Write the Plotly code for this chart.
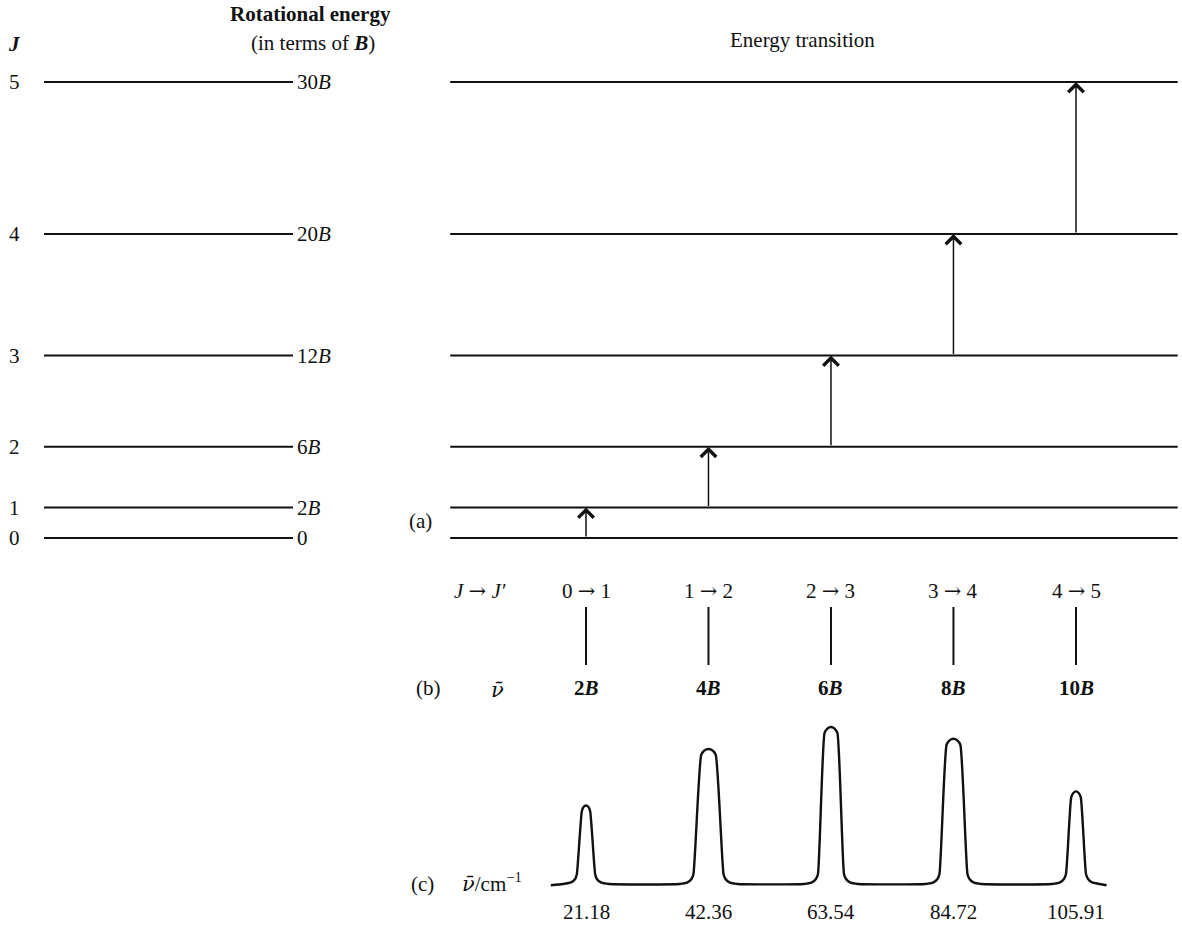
import plotly.graph_objects as go

# ---------------- data ----------------
J_LEVELS = [0, 1, 2, 3, 4, 5]
ENERGY_B = [0, 2, 6, 12, 20, 30]
ENERGY_LABELS = ["0", "2<i>B</i>", "6<i>B</i>", "12<i>B</i>", "20<i>B</i>", "30<i>B</i>"]

TRANSITIONS = [(0, 1), (1, 2), (2, 3), (3, 4), (4, 5)]
WAVENUMBERS = [21.18, 42.36, 63.54, 84.72, 105.91]
WAVENUMBER_LABELS = ["21.18", "42.36", "63.54", "84.72", "105.91"]
STICK_LABELS = ["2<i>B</i>", "4<i>B</i>", "6<i>B</i>", "8<i>B</i>", "10<i>B</i>"]
STICK_INTENSITY = [1, 1, 1, 1, 1]

SPEC_X = [15.1, 17.2, 18.6, 19.3, 19.6, 20.45, 20.75, 21.18, 21.61, 21.91, 22.76, 23.06, 23.76, 25.2,
          37.35, 38.73, 39.42, 39.76, 41.10, 41.65, 42.36, 43.07, 43.62, 44.96, 45.30, 45.99, 47.37,
          58.87, 60.25, 60.94, 61.29, 62.43, 62.92, 63.54, 64.16, 64.65, 65.79, 66.14, 66.83, 68.21,
          79.88, 81.26, 81.95, 82.30, 83.53, 84.05, 84.72, 85.39, 85.91, 87.14, 87.49, 88.18, 89.56,
          101.76, 103.14, 103.83, 104.18, 105.08, 105.45, 105.91, 106.37, 106.74, 107.64, 107.99, 108.68, 110.0, 111.2]
SPEC_Y = [-0.008, 0.0, 0.01, 0.032, 0.064, 0.462, 0.49, 0.50, 0.49, 0.462, 0.064, 0.032, 0.01, 0.0,
          0.0, 0.01, 0.032, 0.064, 0.822, 0.85, 0.86, 0.85, 0.822, 0.064, 0.032, 0.01, 0.0,
          0.0, 0.01, 0.032, 0.064, 0.962, 0.99, 1.0, 0.99, 0.962, 0.064, 0.032, 0.01, 0.0,
          0.0, 0.01, 0.032, 0.064, 0.887, 0.915, 0.925, 0.915, 0.887, 0.064, 0.032, 0.01, 0.0,
          0.0, 0.01, 0.032, 0.064, 0.552, 0.58, 0.59, 0.58, 0.552, 0.064, 0.032, 0.01, 0.0, -0.008]

# ---------------- layout constants ----------------
W, H = 1182, 949
FONT = "Liberation Serif"
INK = "#111111"
FS = 21
RIGHT_LEVEL_SPAN = (-2.3, 123.5)   # extent of level lines in the right panel (x units)
LEFT_LEVEL_SPAN = (0.0, 1.0)
NU = "<span style=\"font-family:'DejaVu Serif'\"><i>ν̄</i></span>"
ARROW = "<span style=\"font-family:'DejaVu Serif'\">→</span>"


def py(px):
    return 1 - px / H


def px_x(px):
    return px / W


fig = go.Figure()

# right panel energy levels
rx, ry = [], []
for e in ENERGY_B:
    rx += [RIGHT_LEVEL_SPAN[0], RIGHT_LEVEL_SPAN[1], None]
    ry += [e, e, None]
fig.add_trace(go.Scatter(x=rx, y=ry, mode="lines", xaxis="x", yaxis="y",
                         line=dict(color=INK, width=2), hoverinfo="skip"))

# left panel energy levels
lx, ly = [], []
for e in ENERGY_B:
    lx += [LEFT_LEVEL_SPAN[0], LEFT_LEVEL_SPAN[1], None]
    ly += [e, e, None]
fig.add_trace(go.Scatter(x=lx, y=ly, mode="lines", xaxis="x2", yaxis="y",
                         line=dict(color=INK, width=2), hoverinfo="skip"))

# stick spectrum (b)
sx, sy = [], []
for w, s in zip(WAVENUMBERS, STICK_INTENSITY):
    sx += [w, w, None]
    sy += [0, s, None]
fig.add_trace(go.Scatter(x=sx, y=sy, mode="lines", xaxis="x", yaxis="y2",
                         line=dict(color=INK, width=2), hoverinfo="skip"))

# observed spectrum (c)
fig.add_trace(go.Scatter(x=SPEC_X, y=SPEC_Y, mode="lines", xaxis="x", yaxis="y3",
                         line=dict(color=INK, width=2.4, shape="spline", smoothing=0.5),
                         hoverinfo="skip"))

ann = []
base = dict(showarrow=False, xanchor="center", yanchor="middle",
            font=dict(family=FONT, size=FS, color=INK))

# transition arrows (J -> J+1)
for (j0, j1), w in zip(TRANSITIONS, WAVENUMBERS):
    ann.append(dict(x=w, y=ENERGY_B[j1], ax=w, ay=ENERGY_B[j0], xref="x", yref="y",
                    axref="x", ayref="y", showarrow=True, arrowhead=4, arrowsize=2.0,
                    arrowwidth=1.5, arrowcolor=INK, standoff=0, text=""))

# left panel labels
for j, e, lab in zip(J_LEVELS, ENERGY_B, ENERGY_LABELS):
    ann.append(dict(base, x=-0.1165, y=e, xref="x2", yref="y", text=str(j)))
    ann.append(dict(base, x=1.01, y=e, xref="x2", yref="y", text=lab, xanchor="left"))

# headers
ann.append(dict(base, x=px_x(14), y=py(44), xref="paper", yref="paper",
                text="<b><i>J</i></b>"))
ann.append(dict(base, x=px_x(228), y=py(14), xref="paper", yref="paper", xanchor="left",
                text="<b>Rotational energy</b>"))
ann.append(dict(base, x=px_x(249), y=py(43), xref="paper", yref="paper", xanchor="left",
                text="(in terms of <b><i>B</i></b>)"))
ann.append(dict(base, x=px_x(803), y=py(40), xref="paper", yref="paper",
                text="Energy transition"))
ann.append(dict(base, x=px_x(420), y=py(521), xref="paper", yref="paper", text="(a)"))
ann.append(dict(base, x=px_x(428), y=py(688), xref="paper", yref="paper", text="(b)"))
ann.append(dict(base, x=px_x(422), y=py(884), xref="paper", yref="paper", text="(c)"))
ann.append(dict(base, x=px_x(480), y=py(591), xref="paper", yref="paper",
                text="<i>J</i> " + ARROW + " <i>J′</i>"))
ann.append(dict(base, x=px_x(497), y=py(690), xref="paper", yref="paper", text=NU))
ann.append(dict(base, x=px_x(492), y=py(882), xref="paper", yref="paper",
                text=NU + "/cm<sup>−1</sup>"))

# (b) labels
for (j0, j1), w, s in zip(TRANSITIONS, WAVENUMBERS, STICK_LABELS):
    ann.append(dict(base, x=w, y=1.276, xref="x", yref="y2",
                    text=f"{j0} {ARROW} {j1}"))
    ann.append(dict(base, x=w, y=-0.397, xref="x", yref="y2", text="<b>" + s + "</b>"))

# (c) labels
for w, t in zip(WAVENUMBERS, WAVENUMBER_LABELS):
    ann.append(dict(base, x=w, y=-0.178, xref="x", yref="y3", text=t))

hidden = dict(visible=False, showgrid=False, zeroline=False, fixedrange=True)

fig.update_layout(
    width=W, height=H,
    margin=dict(l=0, r=0, t=0, b=0),
    paper_bgcolor="white", plot_bgcolor="rgba(0,0,0,0)",
    showlegend=False,
    xaxis=dict(hidden, domain=[0, 1], range=[-80.15, 124.24], anchor="y"),
    xaxis2=dict(hidden, domain=[0, 400 / W], range=[-0.1767, 1.4297], anchor="y"),
    yaxis=dict(hidden, domain=[0, 1], range=[-27.04, 35.395], anchor="x"),
    yaxis2=dict(hidden, domain=[0.2413, 0.4099], range=[-0.948, 1.810], anchor="x"),
    yaxis3=dict(hidden, domain=[0.0, 0.26238], range=[-0.414, 1.172], anchor="x"),
    annotations=ann,
)

fig.write_html("out.html")
